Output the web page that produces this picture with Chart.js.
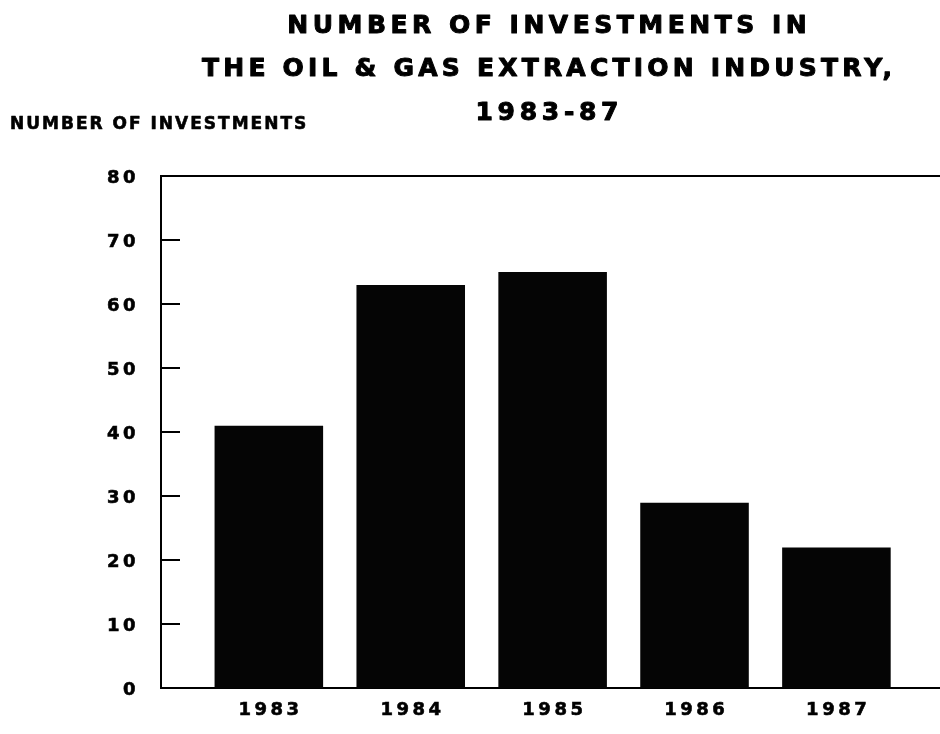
<!DOCTYPE html>
<html><head><meta charset="utf-8">
<script src="https://cdn.jsdelivr.net/npm/chart.js@4/dist/chart.umd.min.js"></script>
<style>html,body{margin:0;padding:0;background:#fff;} #wrap{width:940px;height:734px;position:relative;}</style>
</head><body><div id="wrap"><canvas id="c"></canvas></div>
<script>
// ---- data ----
const titleLines = ["NUMBER OF INVESTMENTS IN", "THE OIL & GAS EXTRACTION INDUSTRY,", "1983-87"];
const yAxisTitle = "NUMBER OF INVESTMENTS";
const categories = ["1983", "1984", "1985", "1986", "1987"];
const investments = [41, 63, 65, 29, 22];
const yTicks = [0, 10, 20, 30, 40, 50, 60, 70, 80];

// ---- styles ----
const FONT = "'DejaVu Sans', 'Liberation Sans', Arial, sans-serif";
const titleBaselines = [33, 76, 120];
const titleSpacing = [4.5, 4.2, 4.7];
const titleCenterX = 547;

const framePlugin = {
  id: 'frame',
  beforeDraw(chart) { chart.ctx.letterSpacing = '3.5px'; },
  afterDraw(chart) {
    const { ctx, chartArea: a, scales: { y } } = chart;
    ctx.save();
    ctx.strokeStyle = '#000';
    ctx.lineWidth = 2;
    ctx.beginPath();
    ctx.moveTo(a.left, a.top);
    ctx.lineTo(a.right, a.top);
    ctx.stroke();
    yTicks.forEach(v => {
      if (v <= y.min || v >= y.max) return;
      const py = Math.round(y.getPixelForValue(v));
      ctx.beginPath();
      ctx.moveTo(a.left, py);
      ctx.lineTo(a.left + 19, py);
      ctx.stroke();
    });
    ctx.fillStyle = '#000';
    ctx.lineJoin = 'round';
    ctx.textBaseline = 'alphabetic';
    ctx.textAlign = 'center';
    ctx.font = 'bold 25px ' + FONT;
    ctx.lineWidth = 1;
    titleLines.forEach((t, i) => {
      ctx.letterSpacing = titleSpacing[i] + 'px';
      const x = titleCenterX + titleSpacing[i] / 2;
      ctx.fillText(t, x, titleBaselines[i]);
      ctx.strokeText(t, x, titleBaselines[i]);
    });
    ctx.textAlign = 'left';
    ctx.font = 'bold 17px ' + FONT;
    ctx.letterSpacing = '2px';
    ctx.lineWidth = 0.6;
    ctx.fillText(yAxisTitle, 10, 129);
    ctx.strokeText(yAxisTitle, 10, 129);
    ctx.restore();
  }
};

new Chart(document.getElementById('c'), {
  type: 'bar',
  data: {
    datasets: [{
      data: categories.map((c, i) => ({ x: i, y: investments[i] })),
      backgroundColor: '#050505',
      borderWidth: 0,
      categoryPercentage: 1,
      barPercentage: 0.765
    }]
  },
  options: {
    responsive: true,
    maintainAspectRatio: false,
    animation: false,
    layout: { padding: { top: 176, left: 0, right: 0, bottom: 2 } },
    plugins: { legend: { display: false }, tooltip: { enabled: false }, title: { display: false } },
    scales: {
      x: {
        type: 'linear',
        offset: false,
        min: -0.76,
        max: 4.73,
        afterBuildTicks: s => { s.ticks = categories.map((c, i) => ({ value: i })); },
        ticks: {
          autoSkip: false,
          maxRotation: 0,
          padding: 11,
          labelOffset: 1.75,
          color: '#000',
          textStrokeColor: '#000',
          textStrokeWidth: 0.6,
          font: { family: FONT, size: 18, weight: 'bold' },
          callback: v => categories[v]
        },
        grid: { display: false, drawTicks: false, offset: false },
        border: { display: true, color: '#000', width: 2 }
      },
      y: {
        min: 0,
        max: 80,
        afterBuildTicks: s => { s.ticks = yTicks.map(v => ({ value: v })); },
        afterFit: s => { s.width = 161; },
        ticks: {
          padding: 22,
          labelOffset: 2,
          color: '#000',
          textStrokeColor: '#000',
          textStrokeWidth: 0.6,
          font: { family: FONT, size: 18, weight: 'bold' }
        },
        grid: { display: false, drawTicks: false },
        border: { display: true, color: '#000', width: 2 }
      }
    }
  },
  plugins: [framePlugin]
});
</script></body></html>
